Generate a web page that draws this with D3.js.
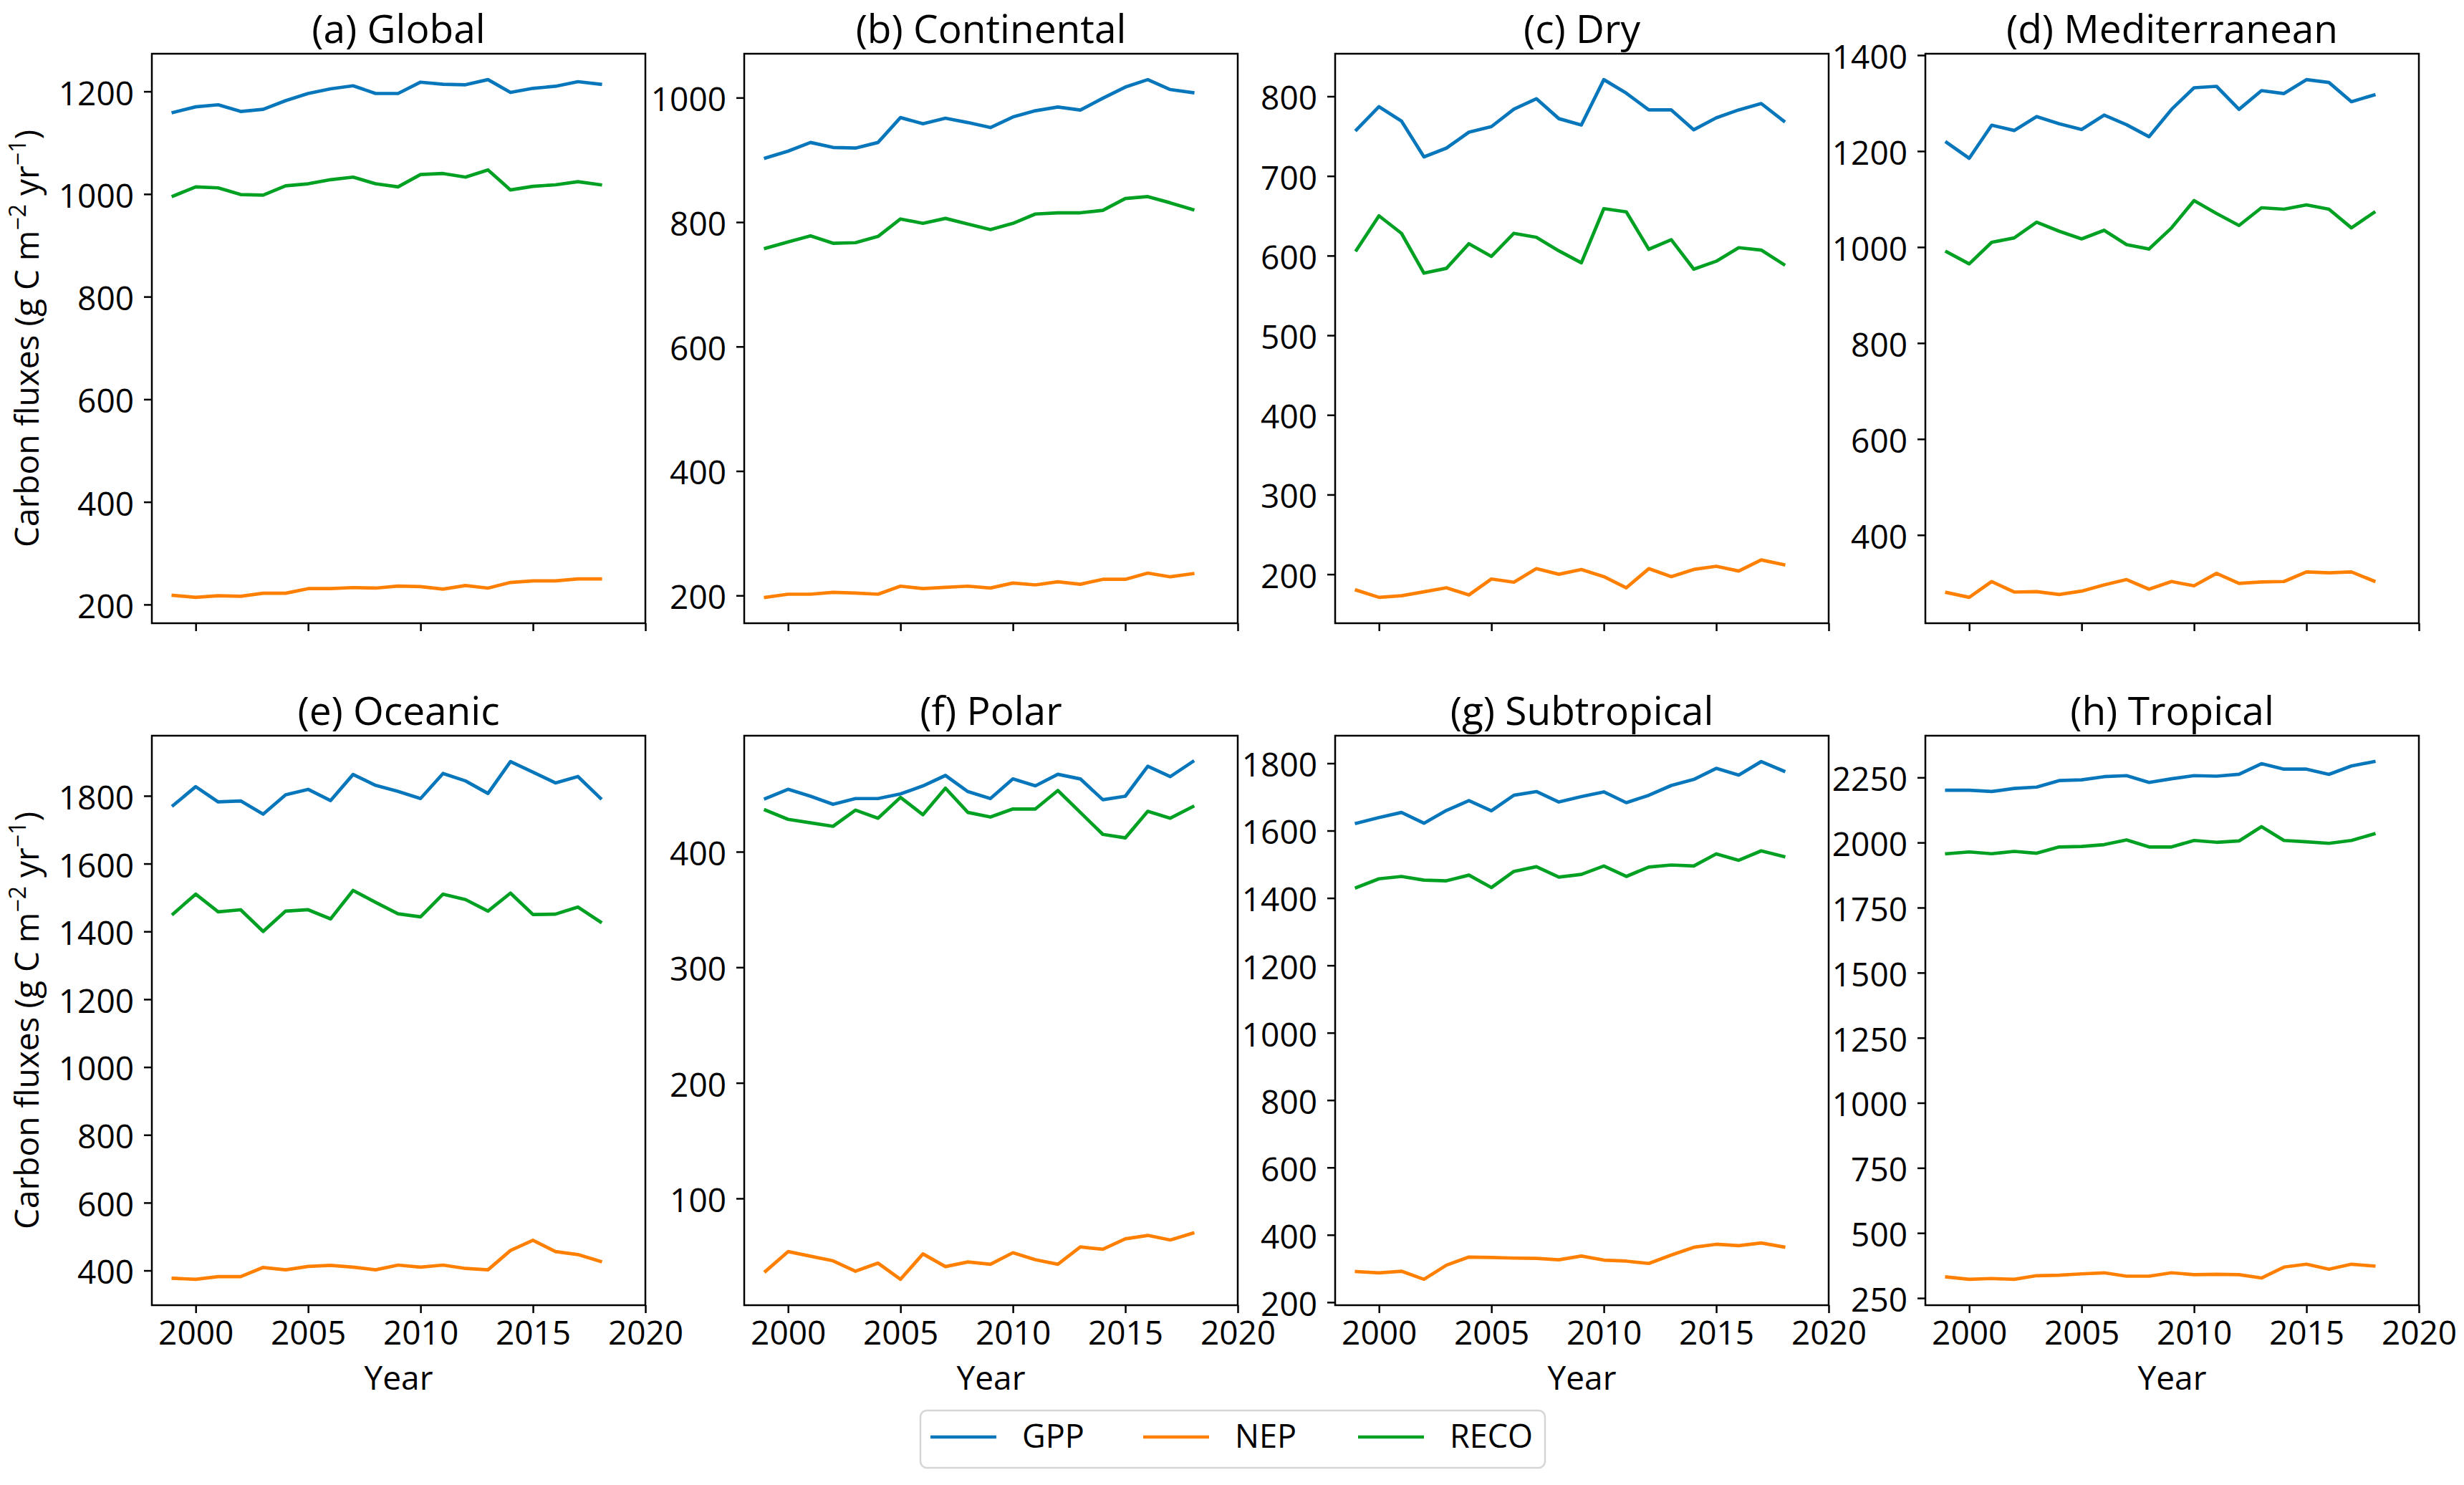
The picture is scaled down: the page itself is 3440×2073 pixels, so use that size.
<!DOCTYPE html>
<html>
<head>
<meta charset="utf-8">
<script src="https://cdn.jsdelivr.net/npm/d3@7"></script>
<style>
  html, body { margin: 0; padding: 0; background: #ffffff; }
  svg { display: block; }
  text { font-family: "Open Sans", "Noto Sans", "DejaVu Sans", sans-serif; fill: #000; }
</style>
</head>
<body>
<svg id="chart" width="3440" height="2073"></svg>
<script>
// ---------------- data ----------------
const years = [1999,2000,2001,2002,2003,2004,2005,2006,2007,2008,2009,2010,2011,2012,2013,2014,2015,2016,2017,2018];
const xTicks = [2000, 2005, 2010, 2015, 2020];
const seriesNames = ["GPP", "NEP", "RECO"];
const panelTitles = ["(a) Global","(b) Continental","(c) Dry","(d) Mediterranean","(e) Oceanic","(f) Polar","(g) Subtropical","(h) Tropical"];

const gppGlobal  = [1159,1170,1174,1161,1165,1182,1196,1205,1211,1196,1196,1218,1214,1213,1223,1198,1206,1210,1219,1214];
const nepGlobal  = [218,214,217,216,222,222,231,231,233,232,236,235,230,237,232,243,246,246,250,250];
const recoGlobal = [996,1014,1012,999,998,1016,1020,1028,1033,1020,1014,1038,1040,1033,1047,1008,1015,1018,1024,1018];

const gppContinental  = [903,914,928,920,919,928,968,958,967,960,952,969,979,985,980,999,1017,1029,1013,1008];
const nepContinental  = [197,202,202,205,204,202,215,211,213,215,212,220,217,222,218,226,226,236,230,235];
const recoContinental = [758,768,778,766,767,777,805,798,806,797,788,798,813,815,815,819,838,841,831,820];

const gppDry  = [758,787,769,724,735,755,762,784,797,772,764,821,804,783,783,758,773,783,791,769];
const nepDry  = [180,171,173,178,183,174,194,190,207,200,206,197,183,207,197,206,210,204,218,212];
const recoDry = [607,650,628,578,584,615,599,628,623,606,591,659,655,608,620,583,593,610,607,589];

const gppMediterranean  = [1218,1185,1254,1243,1272,1257,1245,1275,1255,1230,1287,1332,1335,1287,1326,1320,1349,1343,1303,1317];
const nepMediterranean  = [280,270,303,281,282,276,283,296,307,287,303,294,320,299,302,303,323,321,323,304];
const recoMediterranean = [990,965,1010,1019,1052,1033,1017,1035,1005,996,1040,1097,1070,1045,1082,1079,1088,1079,1040,1072];

const gppOceanic  = [1772,1827,1782,1785,1746,1803,1819,1786,1863,1831,1813,1792,1866,1844,1807,1901,1870,1838,1857,1793];
const nepOceanic  = [377,374,382,382,409,402,412,415,410,402,416,410,416,406,402,459,489,456,447,427];
const recoOceanic = [1452,1510,1458,1464,1400,1460,1464,1437,1521,1486,1452,1443,1510,1494,1460,1513,1450,1451,1472,1428];

const gppPolar  = [446,454,448,441,446,446,450,457,466,452,446,463,457,467,463,445,448,474,465,478];
const nepPolar  = [37,54,50,46,37,44,30,52,41,45,43,53,47,43,58,56,65,68,64,70];
const recoPolar = [436,428,425,422,436,429,447,432,455,434,430,437,437,453,434,415,412,435,429,439];

const gppSubtropical  = [1622,1639,1654,1622,1660,1689,1659,1705,1716,1685,1701,1715,1683,1705,1734,1752,1785,1765,1805,1777];
const nepSubtropical  = [291,287,292,268,310,334,333,331,330,326,337,325,322,315,340,363,372,368,376,364];
const recoSubtropical = [1431,1457,1464,1453,1451,1468,1431,1479,1493,1462,1470,1495,1464,1492,1498,1495,1531,1512,1540,1523];

const gppTropical  = [2201,2201,2196,2208,2213,2238,2241,2253,2257,2231,2245,2257,2255,2262,2303,2282,2282,2262,2294,2311];
const nepTropical  = [331,322,325,322,336,338,343,347,334,334,347,340,341,340,327,369,380,361,380,373];
const recoTropical = [1957,1964,1957,1966,1959,1983,1985,1992,2010,1983,1983,2008,2001,2006,2061,2008,2003,1997,2008,2033];

const yTicksGlobal        = [200,400,600,800,1000,1200];
const yTicksContinental   = [200,400,600,800,1000];
const yTicksDry           = [200,300,400,500,600,700,800];
const yTicksMediterranean = [400,600,800,1000,1200,1400];
const yTicksOceanic       = [400,600,800,1000,1200,1400,1600,1800];
const yTicksPolar         = [100,200,300,400];
const yTicksSubtropical   = [200,400,600,800,1000,1200,1400,1600,1800];
const yTicksTropical      = [250,500,750,1000,1250,1500,1750,2000,2250];

// table built from the arrays above
const panels = [
  {title: panelTitles[0], series: [gppGlobal, nepGlobal, recoGlobal], ticks: yTicksGlobal},
  {title: panelTitles[1], series: [gppContinental, nepContinental, recoContinental], ticks: yTicksContinental},
  {title: panelTitles[2], series: [gppDry, nepDry, recoDry], ticks: yTicksDry},
  {title: panelTitles[3], series: [gppMediterranean, nepMediterranean, recoMediterranean], ticks: yTicksMediterranean},
  {title: panelTitles[4], series: [gppOceanic, nepOceanic, recoOceanic], ticks: yTicksOceanic},
  {title: panelTitles[5], series: [gppPolar, nepPolar, recoPolar], ticks: yTicksPolar},
  {title: panelTitles[6], series: [gppSubtropical, nepSubtropical, recoSubtropical], ticks: yTicksSubtropical},
  {title: panelTitles[7], series: [gppTropical, nepTropical, recoTropical], ticks: yTicksTropical}
];

// ---------------- layout / style ----------------
const colors = ["#0776bb", "#ff8000", "#00a023"];
const colLeft = [212, 1039, 1864, 2688];
const rowTop = [75, 1027];
const W = 689, H = 795;
const tickFont = 46, titleFont = 55;
const lineW = 4.7, spineW = 2.5, tickLen = 11;

const svg = d3.select("#chart");
svg.append("rect").attr("width", 3440).attr("height", 2073).attr("fill", "#fff");

const span = years[years.length - 1] - years[0];
const xLo = years[0] - 0.05 * span;
const xHi = Math.max(years[years.length - 1] + 0.05 * span, d3.max(xTicks));

panels.forEach((p, i) => {
  const col = i % 4, row = Math.floor(i / 4);
  const g = svg.append("g").attr("transform", `translate(${colLeft[col]},${rowTop[row]})`);

  const x = d3.scaleLinear().domain([xLo, xHi]).range([0, W]);
  const all = p.series.flat();
  const mn = d3.min(all), mx = d3.max(all), pad = 0.05 * (mx - mn);
  const y = d3.scaleLinear().domain([mn - pad, mx + pad]).range([H, 0]);

  // lines
  const line = d3.line().x((d, k) => x(years[k])).y(d => y(d));
  p.series.forEach((s, si) => {
    g.append("path").datum(s)
      .attr("d", line)
      .attr("fill", "none")
      .attr("stroke", colors[si])
      .attr("stroke-width", lineW)
      .attr("stroke-linejoin", "round")
      .attr("stroke-linecap", "square");
  });

  // spines
  g.append("rect").attr("x", 0).attr("y", 0).attr("width", W).attr("height", H)
    .attr("fill", "none").attr("stroke", "#000").attr("stroke-width", spineW);

  // y axis
  const ya = g.append("g").call(d3.axisLeft(y).tickValues(p.ticks).tickSize(tickLen).tickPadding(14).tickFormat(d3.format("d")));
  ya.select(".domain").remove();
  ya.selectAll(".tick line").attr("stroke", "#000").attr("stroke-width", spineW);
  ya.selectAll(".tick text").attr("font-size", tickFont).attr("dy", "0.40em")
    .style("font-family", '"Open Sans", sans-serif').attr("fill", "#000");

  // x axis
  const xa = g.append("g").attr("transform", `translate(0,${H})`)
    .call(d3.axisBottom(x).tickValues(xTicks).tickSize(tickLen).tickPadding(11).tickFormat(d3.format("d")));
  xa.select(".domain").remove();
  xa.selectAll(".tick line").attr("stroke", "#000").attr("stroke-width", spineW);
  if (row === 1) {
    xa.selectAll(".tick text").attr("font-size", tickFont)
      .style("font-family", '"Open Sans", sans-serif').attr("fill", "#000");
    g.append("text").attr("x", W / 2).attr("y", H + 118).attr("text-anchor", "middle")
      .attr("font-size", tickFont).text("Year");
  } else {
    xa.selectAll(".tick text").remove();
  }

  // title
  g.append("text").attr("x", W / 2).attr("y", -15).attr("text-anchor", "middle")
    .attr("font-size", titleFont).text(p.title);

  // y label
  if (col === 0) {
    const t = g.append("text")
      .attr("transform", `translate(${54 - colLeft[0]},${H / 2}) rotate(-90)`)
      .attr("text-anchor", "middle").attr("font-size", tickFont);
    t.append("tspan").text("Carbon fluxes (g C m");
    t.append("tspan").attr("dy", -18).attr("font-size", 32).text("\u22122");
    t.append("tspan").attr("dy", 18).text(" yr");
    t.append("tspan").attr("dy", -18).attr("font-size", 32).text("\u22121");
    t.append("tspan").attr("dy", 18).text(")");
  }
});

// legend
const lg = svg.append("g");
lg.append("rect").attr("x", 1285).attr("y", 1969).attr("width", 872).attr("height", 80)
  .attr("rx", 9).attr("ry", 9).attr("fill", "#fff").attr("stroke", "#d5d5d5").attr("stroke-width", 2.5);
const handleX = [1299, 1596, 1896];
seriesNames.forEach((n, i) => {
  lg.append("line").attr("x1", handleX[i]).attr("x2", handleX[i] + 92)
    .attr("y1", 2006).attr("y2", 2006)
    .attr("stroke", colors[i]).attr("stroke-width", lineW);
  lg.append("text").attr("x", handleX[i] + 128).attr("y", 2021)
    .attr("font-size", 45).text(n);
});
</script>
</body>
</html>
